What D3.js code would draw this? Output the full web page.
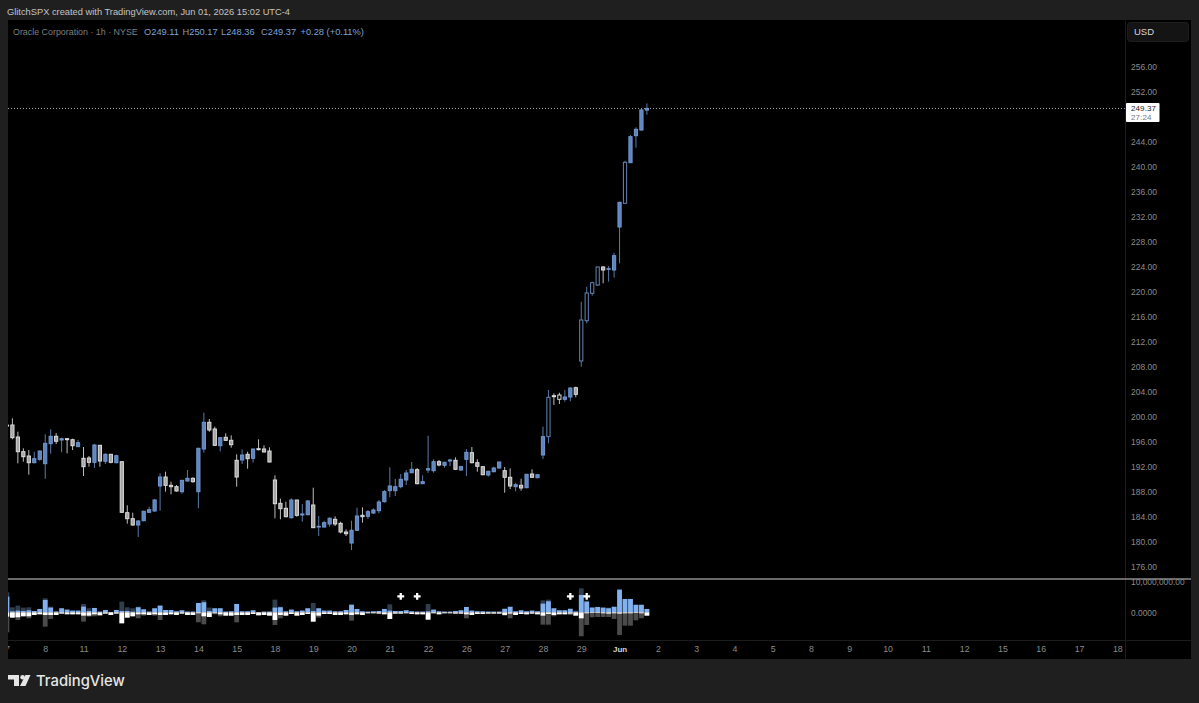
<!DOCTYPE html>
<html>
<head>
<meta charset="utf-8">
<title>Oracle Corporation 1h</title>
<script src="https://cdn.jsdelivr.net/npm/d3@7/dist/d3.min.js"></script>
<style>
  html, body { margin: 0; padding: 0; background: #1f1f1f; }
  svg { display: block; }
  text { font-family: "Liberation Sans", Arial, sans-serif; }
</style>
</head>
<body>
<svg id="chart" width="1199" height="703"></svg>
<script>
// Hourly candles, earliest first: wick extremes and body edges in USD.
const high = [198.72,199.79,197.65,194.99,194.72,194.45,194.61,197.23,198.03,197.44,196.69,
  196.64,196.53,196.32,195.20,193.76,195.68,195.52,194.19,194.08,193.97,
  192.85,185.87,184.69,183.52,185.01,185.65,186.88,190.99,191.25,189.65,
  189.12,189.92,191.52,190.35,195.09,200.69,199.68,198.45,196.75,197.39,
  197.07,194.03,194.83,194.45,194.93,196.43,195.47,195.15,190.67,186.93,
  186.45,186.99,186.72,186.08,186.72,188.69,184.16,183.41,183.95,184.11,
  183.25,182.03,183.41,185.49,185.55,185.12,185.39,186.72,188.32,191.95,
  190.08,190.88,191.52,192.80,191.84,190.67,197.01,193.23,193.12,192.85,
  193.33,193.55,192.21,194.88,195.20,193.23,192.16,191.41,192.05,192.85,
  192.00,191.79,189.49,190.13,190.83,191.63,190.88,198.45,204.32,203.79,
  203.89,204.32,204.75,204.85,218.45,220.85,221.65,224.05,224.16,224.16,
  226.29,234.45,241.01,245.12,246.35,249.28,250.17];
const bodyTop = [198.70,198.72,196.80,194.45,193.76,193.33,194.56,195.79,196.91,196.91,196.53,
  196.53,196.37,195.89,193.39,193.44,195.52,195.47,194.03,194.03,193.81,
  192.85,184.69,183.73,183.36,184.91,185.17,186.72,190.40,190.40,189.07,
  188.85,189.87,190.19,190.19,194.99,199.15,199.15,198.08,196.69,196.75,
  196.27,193.07,193.92,194.03,194.88,194.93,194.88,194.56,189.92,186.19,
  185.39,186.72,186.72,184.48,186.56,185.92,182.51,183.09,183.79,183.63,
  182.99,181.60,181.87,184.16,184.27,184.85,185.12,186.40,188.05,188.96,
  188.85,190.03,191.04,191.63,191.57,189.65,191.73,192.85,192.85,192.75,
  193.12,193.07,192.05,194.35,194.29,192.69,192.05,191.31,191.84,192.80,
  191.41,190.35,189.17,189.07,190.83,190.88,190.77,196.85,203.15,203.41,
  203.52,203.20,204.64,204.69,215.52,219.84,221.49,224.00,224.00,223.73,
  225.81,234.35,240.75,244.85,246.03,249.12,249.37];
const bodyBottom = [198.55,196.69,194.45,193.65,192.69,192.69,193.23,192.53,195.73,196.11,196.32,
  196.37,195.41,195.25,192.05,192.75,192.75,192.96,192.91,192.75,192.69,
  184.75,183.73,182.72,182.72,183.41,184.75,184.96,188.96,189.07,188.85,
  188.16,188.05,189.76,189.65,188.05,194.88,197.92,195.47,195.41,196.27,
  195.57,190.40,193.12,193.33,193.39,194.77,194.40,192.80,186.13,185.33,
  184.05,183.89,184.27,184.32,184.37,182.29,182.40,182.40,182.88,182.88,
  181.60,181.33,179.84,181.87,184.05,184.11,184.64,185.01,186.45,188.21,
  188.21,188.85,189.92,191.09,189.33,189.33,191.52,191.41,192.32,192.27,
  192.96,191.63,191.52,193.23,192.69,192.11,190.77,190.72,191.25,191.84,
  190.35,188.96,188.85,188.64,188.69,190.35,190.29,193.92,196.85,203.25,
  202.83,202.83,203.20,203.63,208.96,215.41,219.79,221.12,223.52,223.63,
  223.52,230.40,234.19,240.69,245.01,245.92,249.11];
const low = [198.55,196.43,192.59,192.85,190.77,192.59,193.01,190.13,194.13,195.68,194.35,
  194.19,194.72,195.20,190.56,192.05,191.84,192.05,192.48,192.59,192.59,
  184.69,182.93,182.61,180.80,183.31,184.64,184.85,185.01,188.05,187.63,
  188.05,187.73,189.71,189.49,185.39,194.29,197.65,195.36,194.51,196.16,
  195.09,188.85,192.48,191.73,192.69,194.67,194.35,192.75,183.79,183.63,
  183.95,183.73,184.05,183.25,184.27,182.24,180.96,182.29,182.45,182.56,
  181.39,180.96,178.72,181.76,183.09,183.68,184.48,184.59,186.29,187.15,
  187.36,188.59,189.12,190.99,189.23,189.28,191.04,191.09,192.11,191.89,
  192.16,191.52,191.41,190.56,192.59,191.25,190.67,190.45,191.15,191.73,
  187.89,188.48,188.11,188.21,188.59,190.24,190.19,193.28,195.79,201.92,
  202.08,202.45,202.51,203.15,208.05,214.99,219.41,220.96,221.39,221.65,
  222.29,224.59,234.13,240.64,243.09,245.81,248.36];
// B closes at the body top, W closes at the body bottom.
const direction = "W" + "WWWWBBBBWB" + "WWBWWBWBWB" + "WWWBBBBBWW" + "WBBWBBWWBW"
  + "WWBWBWWWWW" + "WBWBBWBBBW" + "WWBBWBBBBB" + "BBBBWBBBWB" + "BWBBWWWBBB"
  + "WWBWBWBBBW" + "WBBWBBBBWB" + "BBBBBBB";
const open = bodyTop.map((t, i) => direction[i] === "B" ? bodyBottom[i] : t);
const close = bodyTop.map((t, i) => direction[i] === "B" ? t : bodyBottom[i]);
// Wide-range bars painted with an empty body.
const hollowBars = [99, 101, 105, 106, 107, 108, 113];

// Lower pane, in millions: buying above zero, selling below, with a dim outer reading for each.
const buyVolume = [5.05,.32,.54,.43,.65,.43,1.08,3.98,1.51,.22,1.29,.86,.54,.54,1.83,.43,1.40,.22,.75,.11,.75,.43,.43,.22,1.61,.97,.22,1.29,2.15,.75,.75,.32,.65,.22,.22,3.01,3.23,.43,1.29,1.29,
  .22,.32,2.69,.32,.32,.65,0,.22,.22,1.51,1.61,.32,.86,.32,.54,1.29,.43,1.29,.54,.54,.32,.32,.75,2.37,1.08,.32,.22,.32,.43,1.08,.54,.43,.43,.65,.32,.22,.22,.32,.86,.32,
  .22,.22,.43,.65,1.72,.54,.32,.32,.22,.22,.22,1.08,1.72,.32,.65,.32,.54,.32,2.80,3.55,1.29,.65,.65,1.08,.22,5.59,3.44,1.51,1.72,1.51,1.29,1.72,7.31,4.30,4.30,2.37,2.37,1.08];
const buyOuter = [6.45,1.61,2.15,1.51,1.61,.43,1.08,4.52,1.83,.43,1.29,.86,.54,.54,2.69,1.29,1.40,.22,.75,.11,.75,3.44,1.61,1.29,1.83,.97,.22,1.29,2.15,.75,.75,.32,.65,.22,.22,3.01,3.87,1.51,1.29,1.29,
  .22,.32,2.69,.32,.32,.65,0,.22,.22,4.09,1.83,.32,.86,.32,.54,1.29,3.01,1.29,.54,.54,.32,.32,.75,2.69,1.08,.32,.22,.32,.43,1.08,2.58,.43,.43,.65,.32,.22,.22,2.69,.86,.32,
  .22,.22,.43,.65,1.72,.54,.32,.32,.22,.22,.22,1.29,1.94,.32,.65,.32,.54,.32,3.87,4.09,1.29,.65,.65,1.29,.54,7.74,3.76,1.61,1.72,1.51,1.51,1.94,7.31,4.30,4.30,2.58,2.58,1.08];
const sellVolume = [1.40,1.72,1.61,1.29,1.29,.86,.65,.86,.86,.86,.43,.65,.65,.65,1.08,1.08,.65,.97,.43,.86,.43,3.55,1.72,1.29,.65,.65,.86,.65,.86,.86,.65,.86,.43,.86,.86,.32,1.29,1.51,.32,.65,
  1.08,1.08,.86,.86,.86,.54,.97,.86,1.08,2.47,.86,1.08,.54,1.08,.86,.54,3.01,1.08,.54,.54,.86,.86,.65,.86,.65,.86,.32,.32,.43,.65,2.15,.43,.43,.32,.54,.65,.65,2.37,.32,.65,
  .32,.32,.43,.43,.65,.86,.54,.54,.43,.43,.43,.86,.43,.86,.54,.65,.43,.65,1.08,.54,.86,.65,.65,.43,1.08,1.94,.32,.22,.22,.32,.43,.32,.43,.32,.32,.22,.32,1.08];
const sellOuter = [6.45,1.72,2.47,1.29,1.94,.86,.65,4.62,2.15,.86,.43,.65,.65,.65,3.01,1.40,1.29,.97,.43,.86,.43,3.55,1.72,1.29,1.94,1.08,.86,1.08,2.47,.86,.65,.86,.43,.86,.86,3.23,3.87,1.51,.65,1.29,
  1.08,1.08,3.23,.86,.86,.54,.97,.86,1.08,4.09,1.94,1.08,.54,1.08,.86,.54,3.01,1.72,.54,.54,.86,.86,.65,2.69,.65,.86,.32,.32,.43,.65,2.15,.43,.43,.32,.54,.65,.65,2.37,.32,.65,
  .32,.32,.43,.43,1.94,.86,.54,.54,.43,.43,.43,1.08,1.94,.86,.54,.65,.43,.65,3.98,3.98,1.29,.65,.65,.86,1.08,7.74,4.09,1.61,1.51,1.51,1.51,2.15,7.31,4.30,4.30,2.58,1.94,1.08];
// Bars flagged with a plus sign above the lower pane's histogram.
const flaggedBars = [72, 75, 103, 106];
const flagLevel = 5.16;

// 248 sits under the last price tag, so the axis skips it.
const priceTicks = d3.range(176, 257, 4).filter(d => d !== 248);
const sessionTicks = [[0,"7"],[7,"8"],[14,"11"],[21,"12"],[28,"13"],[35,"14"],[42,"15"],[49,"18"],[56,"19"],[63,"20"],[70,"21"],[77,"22"],[84,"26"],[91,"27"],[98,"28"],[105,"29"],[112,"Jun"],[119,"2"],[126,"3"],[133,"4"],[140,"5"],[147,"8"],[154,"9"],[161,"10"],[168,"11"],[175,"12"],[182,"15"],[189,"16"],[196,"17"],[203,"18"]];
const lastPrice = 249.37;

const svg = d3.select("#chart");
const pane = { left: 8, right: 1125, top: 21, bottom: 579, volBottom: 640, axisBottom: 659, edge: 1191 };

const x = d3.scaleLinear().domain([0, 117]).range([6.93, 646.9]);
const y = d3.scaleLinear().domain([176, 256]).range([567, 67]);
const v = d3.scaleLinear().domain([0, 10]).range([612.3, 581.3]);

// Panels
svg.append("rect").attr("x", pane.left).attr("y", pane.top - 1)
  .attr("width", pane.edge - pane.left).attr("height", pane.axisBottom - pane.top + 1).attr("fill", "#000");
svg.append("line").attr("x1", pane.right + .5).attr("x2", pane.right + .5).attr("y1", pane.top).attr("y2", pane.axisBottom)
  .attr("stroke", "#1c1c1c");
svg.append("line").attr("x1", pane.left).attr("x2", pane.edge).attr("y1", pane.volBottom + .5).attr("y2", pane.volBottom + .5)
  .attr("stroke", "#1c1c1c");

const defs = svg.append("defs");
defs.append("clipPath").attr("id", "plot").append("rect")
  .attr("x", pane.left).attr("y", pane.top).attr("width", pane.right - pane.left).attr("height", pane.volBottom - pane.top);

const plot = svg.append("g").attr("clip-path", "url(#plot)");

// Last price line
plot.append("line").attr("x1", pane.left).attr("x2", pane.right).attr("y1", y(lastPrice)).attr("y2", y(lastPrice))
  .attr("stroke", "#a8a8a8").attr("stroke-width", 1).attr("stroke-dasharray", "1 2");

// Candles
const idx = d3.range(high.length);
const up = i => close[i] >= open[i];
plot.append("g").selectAll("line").data(idx).join("line")
  .attr("x1", i => x(i)).attr("x2", i => x(i))
  .attr("y1", i => y(high[i])).attr("y2", i => y(low[i]))
  .attr("stroke", i => up(i) ? "#5a79a8" : "#bdbdbd").attr("stroke-width", 1);

plot.append("g").selectAll("rect").data(idx).join("rect")
  .attr("x", i => x(i) - 1.6)
  .attr("width", 3.2)
  .attr("y", i => y(Math.max(open[i], close[i])))
  .attr("height", i => Math.abs(y(open[i]) - y(close[i])))
  .attr("fill", i => hollowBars.includes(i) ? "#000" : (up(i) ? "#5f84bd" : "#a5a5a5"))
  .attr("stroke", i => up(i) ? (hollowBars.includes(i) ? "#6484b4" : "#7197d0") : "#dcdcdc")
  .attr("stroke-width", 1);

// Lower pane histogram
const barW = 4.8;
const column = (values, color, above) => plot.append("g").selectAll("rect").data(idx).join("rect")
  .attr("x", i => x(i) - barW / 2).attr("width", barW)
  .attr("y", i => above ? v(values[i]) : v(0))
  .attr("height", i => Math.abs(v(values[i]) - v(0)))
  .attr("fill", color);
column(buyOuter, "#2f3d4e", true);
column(sellOuter, "#4b4b4b", false);
column(buyVolume, "#82b1f0", true);
column(sellVolume, "#ffffff", false);

plot.append("g").selectAll("path").data(flaggedBars).join("path")
  .attr("d", d3.symbol(d3.symbolCross, 26))
  .attr("transform", i => `translate(${x(i)},${v(flagLevel)})`)
  .attr("fill", "#ffffff");

// Divider between the two panes
svg.append("line").attr("x1", pane.left).attr("x2", pane.edge).attr("y1", pane.bottom).attr("y2", pane.bottom)
  .attr("stroke", "#8c8c8c").attr("stroke-width", 1.6);

// Price axis
const axisText = sel => {
  sel.select(".domain").remove();
  sel.selectAll(".tick line").remove();
};
const priceAxis = svg.append("g").attr("transform", `translate(${pane.right + 6},0)`)
  .call(d3.axisRight(y).tickValues(priceTicks).tickSize(0).tickPadding(0).tickFormat(d3.format(".2f")))
  .call(axisText);
priceAxis.selectAll("text").attr("fill", "#8b8b8b").attr("font-size", 8.5)
  .style("font-family", "'Liberation Sans'");

// Lower pane scale labels
const volAxis = svg.append("g").attr("transform", `translate(${pane.right + 6},0)`)
  .call(d3.axisRight(v).tickValues([0, 10]).tickSize(0).tickPadding(0)
    .tickFormat(d => d === 0 ? "0.0000" : "10,000,000.00"))
  .call(axisText);
volAxis.selectAll("text").attr("fill", "#8b8b8b").attr("font-size", 8.4)
  .style("font-family", "'Liberation Sans'");

// Date axis
const dateAxis = svg.append("g").attr("clip-path", "url(#dates)").attr("transform", `translate(0,${pane.volBottom + 6})`)
  .call(d3.axisBottom(x).tickValues(sessionTicks.map(d => d[0])).tickSize(0).tickPadding(0)
    .tickFormat(d => sessionTicks.find(t => t[0] === d)[1]))
  .call(axisText);
defs.append("clipPath").attr("id", "dates").append("rect")
  .attr("x", pane.left).attr("y", 0).attr("width", pane.right - pane.left).attr("height", 30);
dateAxis.selectAll("text").attr("fill", "#8b8b8b").attr("font-size", 8.8)
  .style("font-family", "'Liberation Sans'")
  .filter(d => d === 112).attr("fill", "#d6d6d6").attr("font-weight", 700).attr("font-size", 8);

// Currency button
svg.append("rect").attr("x", 1127.5).attr("y", 22.5).attr("width", 61).attr("height", 19).attr("rx", 3)
  .attr("fill", "#141414").attr("stroke", "#1e1e1e");
svg.append("text").attr("x", 1134).attr("y", 35).attr("fill", "#d8d8d8").attr("font-size", 9.5).text("USD");

// Last price tag
svg.append("rect").attr("x", 1126).attr("y", 103).attr("width", 33.5).attr("height", 19).attr("rx", 1).attr("fill", "#fff");
svg.append("text").attr("x", 1131).attr("y", 110.6).attr("fill", "#222").attr("font-size", 8).attr("letter-spacing", ".1").text(d3.format(".2f")(lastPrice));
svg.append("text").attr("x", 1131).attr("y", 120.3).attr("fill", "#777").attr("font-size", 8).attr("letter-spacing", ".1").text("27:24");

// Header lines
svg.append("text").attr("x", 7).attr("y", 14.5).attr("fill", "#c4c4c4").attr("font-size", 9.3)
  .text("GlitchSPX created with TradingView.com, Jun 01, 2026 15:02 UTC-4");
svg.append("text").attr("x", 13).attr("y", 34.5).attr("fill", "#7f7f7f").attr("font-size", 8.9)
  .text("Oracle Corporation · 1h · NYSE");
const legendItems = [[144, "O", "249.11"], [182.5, "H", "250.17"], [221, "L", "248.36"], [261, "C", "249.37"], [300.5, "", "+0.28 (+0.11%)"]];
legendItems.forEach(([lx, letter, value]) => {
  const t = svg.append("text").attr("x", lx).attr("y", 34.5).attr("font-size", 9.3);
  if (letter) t.append("tspan").attr("fill", "#8a9ab0").text(letter);
  t.append("tspan").attr("fill", "#7ba3dc").text(value);
});

// Wordmark
const mark = svg.append("g").attr("fill", "#e6e6e6");
mark.append("path").attr("d", "M8 675h11v11h-5v-6.5h-6z");
mark.append("circle").attr("cx", 22.6).attr("cy", 677.3).attr("r", 2.3);
mark.append("path").attr("d", "M25.5 675H30.5L25.5 686H20z");
svg.append("text").attr("x", 36).attr("y", 686).attr("fill", "#e6e6e6").attr("font-size", 14.8).attr("font-weight", 500)
  .style("font-family", "Inter").text("TradingView");
</script>
</body>
</html>
